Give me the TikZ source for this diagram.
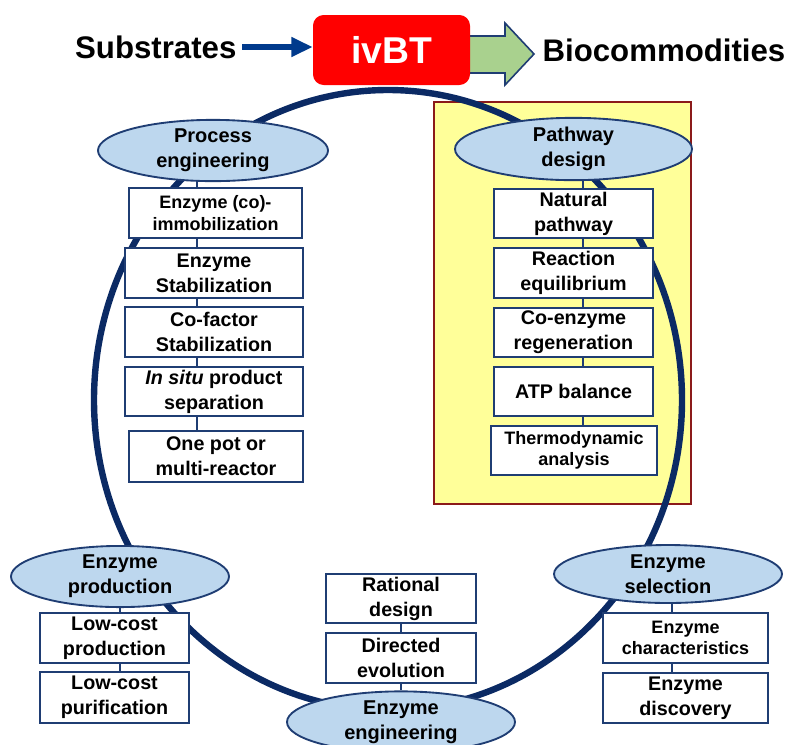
\documentclass[tikz,border=0pt]{standalone}
\usepackage{fontspec}
\setmainfont{Liberation Sans}
\usepackage{tikz}
\usetikzlibrary{shapes.geometric, arrows.meta, positioning}
\definecolor{loopnavy}{HTML}{0B2A64}
\definecolor{edgenavy}{HTML}{1F3D73}
\definecolor{arrowblue}{HTML}{003A8C}
\definecolor{topicblue}{HTML}{BDD7EE}
\definecolor{ivbtred}{HTML}{FF0000}
\definecolor{panelyellow}{HTML}{FFFF99}
\definecolor{panelred}{HTML}{8B1A1A}
\definecolor{flowgreen}{HTML}{A9D18E}

\def\px{0.75pt}

\begin{document}
\begin{tikzpicture}[x=0.75pt, y=-0.75pt,
  wh/.style 2 args={minimum width=#1*\px, minimum height=#2*\px},
  topic/.style={ellipse, draw=edgenavy, line width=1.4pt, fill=topicblue, inner sep=0pt, align=center, font=\fontsize{15}{19}\selectfont\bfseries},
  task/.style={rectangle, draw=edgenavy, line width=1.4pt, fill=white, inner sep=0pt, align=center, font=\fontsize{14.8}{18.8}\selectfont\bfseries},
  smalltask/.style={task, font=\fontsize{13.5}{16}\selectfont\bfseries},
  link/.style={draw=edgenavy, line width=2pt},
  bigword/.style={font=\fontsize{23.4}{28}\selectfont\bfseries, inner sep=1pt}]
  \useasboundingbox (0,0) rectangle (788,744);

  % Pathway design panel and the cycle
  \draw[panelred, line width=1.5pt, fill=panelyellow] (434,102) rectangle (691,504);
  \draw[loopnavy, line width=4.8pt] (388,400) ellipse [x radius=294, y radius=310];

  % Top line: substrates -> ivBT -> biocommodities
  \draw[edgenavy, line width=1.2pt, fill=flowgreen] (466,36) -- (505,36) -- (505,23) -- (534,54) -- (505,85) -- (505,73) -- (466,73) -- cycle;
  \node[rectangle, rounded corners=8pt, fill=ivbtred, wh={157}{70}, font=\fontsize{28}{32}\selectfont\bfseries, text=white] (ivbt) at (391.5,50) {ivBT};
  \node[bigword, anchor=east] (subs) at (238,47) {Substrates};
  \node[bigword, anchor=west] (bio) at (541,50) {Biocommodities};
  \draw[arrowblue, line width=4.5pt, -{Triangle[length=16pt, width=14pt]}] ([xshift=3pt]subs.east) -- (subs.east -| ivbt.west);

  % Process engineering
  \node[topic, wh={230}{59}] (pe) at (213,150.5) {Process\\engineering};
  \node[smalltask, wh={173}{50}] (pe1) at (215.5,213) {Enzyme (co)-\\immobilization};
  \node[task, wh={178}{50}] (pe2) at (214,273) {Enzyme\\Stabilization};
  \node[task, wh={178}{50}] (pe3) at (214,332) {Co-factor\\Stabilization};
  \node[task, wh={178}{49}] (pe4) at (214,391.5) {\textit{In situ} product\\separation};
  \node[task, wh={174}{51}] (pe5) at (216,456.5) {One pot or\\multi-reactor};
  \coordinate (pespine) at (197,0);
  \draw[link] (pe.south -| pespine) -- (pe1.north -| pespine);
  \draw[link] (pe1.south -| pespine) -- (pe2.north -| pespine);
  \draw[link] (pe2.south -| pespine) -- (pe3.north -| pespine);
  \draw[link] (pe3.south -| pespine) -- (pe4.north -| pespine);
  \draw[link] (pe4.south -| pespine) -- (pe5.north -| pespine);

  % Pathway design
  \node[topic, wh={237}{58}] (pd) at (573.5,149) {Pathway\\design};
  \node[task, wh={159}{49}] (pd1) at (573.5,213.5) {Natural\\pathway};
  \node[task, wh={159}{50}] (pd2) at (573.5,273) {Reaction\\equilibrium};
  \node[task, wh={159}{49}] (pd3) at (573.5,332.5) {Co-enzyme\\regeneration};
  \node[task, wh={159}{49}] (pd4) at (573.5,391.5) {ATP balance};
  \node[smalltask, wh={166}{49}] (pd5) at (574,450.5) {Thermodynamic\\analysis};
  \coordinate (pdspine) at (583,0);
  \draw[link] (pd.south -| pdspine) -- (pd1.north -| pdspine);
  \draw[link] (pd1.south -| pdspine) -- (pd2.north -| pdspine);
  \draw[link] (pd2.south -| pdspine) -- (pd3.north -| pdspine);
  \draw[link] (pd3.south -| pdspine) -- (pd4.north -| pdspine);
  \draw[link] (pd4.south -| pdspine) -- (pd5.north -| pdspine);

  % Enzyme production
  \node[topic, wh={218}{53}] (ep) at (120,576.5) {Enzyme\\production};
  \node[task, wh={149}{50}] (ep1) at (114.5,638) {Low-cost\\production};
  \node[task, wh={149}{51}] (ep2) at (114.5,697.5) {Low-cost\\purification};
  \coordinate (epspine) at (120,0);
  \draw[link] (ep.south -| epspine) -- (ep1.north -| epspine);
  \draw[link] (ep1.south -| epspine) -- (ep2.north -| epspine);

  % Enzyme engineering
  \node[topic, wh={228}{58}] (ee) at (401,722) {Enzyme\\engineering};
  \node[task, wh={150}{49}] (ee1) at (401,598.5) {Rational\\design};
  \node[task, wh={150}{50}] (ee2) at (401,658) {Directed\\evolution};
  \coordinate (eespine) at (401,0);
  \draw[link] (ee1.south -| eespine) -- (ee2.north -| eespine);
  \draw[link] (ee2.south -| eespine) -- (ee.north -| eespine);

  % Enzyme selection
  \node[topic, wh={228}{58}] (es) at (668,574) {Enzyme\\selection};
  \node[smalltask, wh={165}{50}] (es1) at (685.5,638) {Enzyme\\characteristics};
  \node[task, wh={165}{50}] (es2) at (685.5,698) {Enzyme\\discovery};
  \coordinate (esspine) at (672,0);
  \draw[link] (es.south -| esspine) -- (es1.north -| esspine);
  \draw[link] (es1.south -| esspine) -- (es2.north -| esspine);
\end{tikzpicture}
\end{document}
